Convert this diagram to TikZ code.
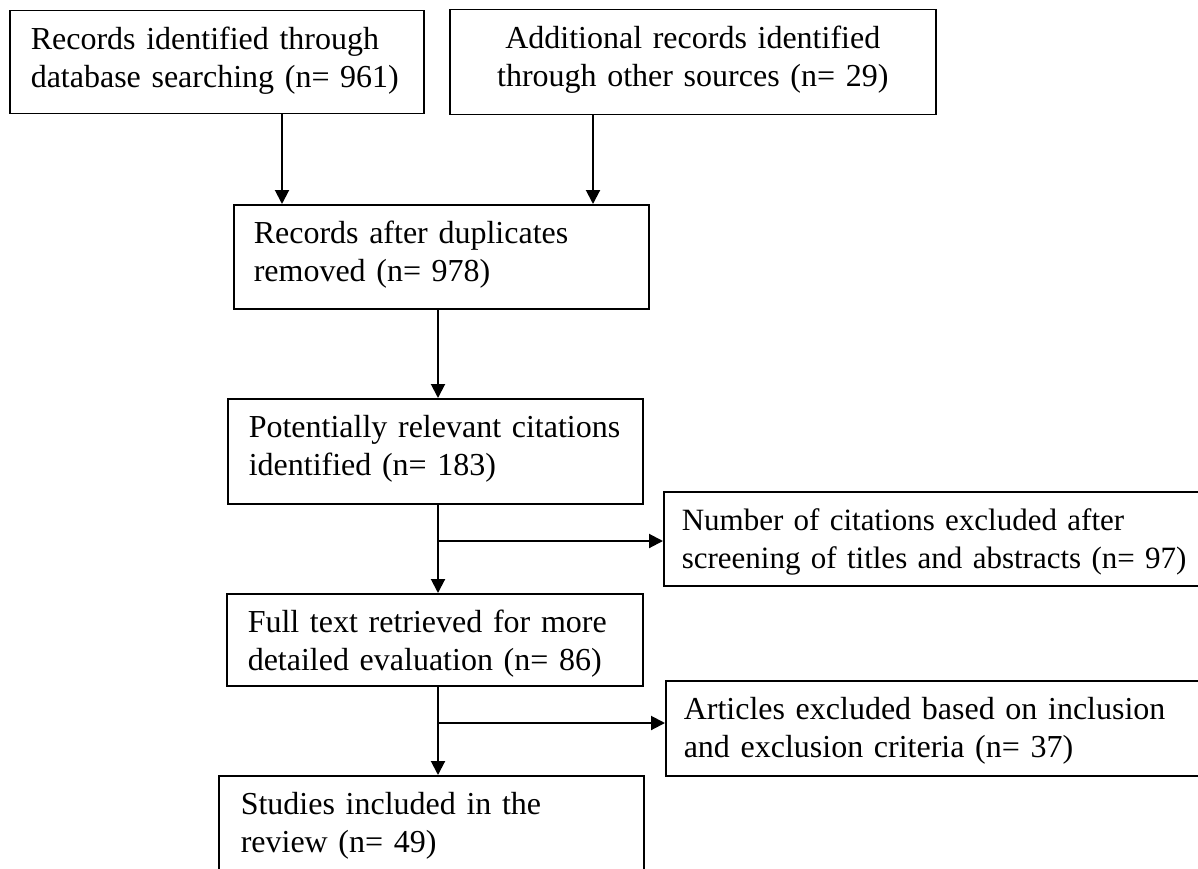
\documentclass[tikz,border=0pt]{standalone}
\usepackage{fontspec}
\setmainfont{Liberation Serif}[WordSpace=0.8]
\usetikzlibrary{positioning, arrows.meta}
\tikzset{>={Triangle[length=14pt, width=14pt]}, flow/.style={->, line width=2pt},
	box/.style={draw, rectangle, line width=1.5pt, anchor=north west, align=left, inner xsep=21pt, inner ysep=0pt, text height=39pt, font=\fontsize{32pt}{38pt}\selectfont}}

\begin{document}
\begin{tikzpicture}[x=1pt, y=-1pt]
	\path[use as bounding box, clip] (0,0) rectangle (1198,869);
	\node[box, text width=372pt, text depth=64pt] (Records) at (9,10) {Records identified through\\database searching (n= 961)};
	\node[box, align=center, text width=444pt, text depth=66pt] (Additional) at (449,9) {Additional records identified\\through other sources (n= 29)};
	\node[box, inner xsep=20pt, text width=375pt, text depth=65pt] (Duplicates) at (233,204) {Records after duplicates\\removed (n= 978)};
	\node[box, text width=373pt, text depth=66pt] (Relevant) at (227,398) {Potentially relevant citations\\identified (n= 183)};
	\node[box, inner xsep=18pt, text width=580pt, text depth=55pt, font=\fontsize{31pt}{38pt}\selectfont] (Screened) at (663,491) {Number of citations excluded after\\screening of titles and abstracts (n= 97)};
	\node[box, text width=374pt, text depth=53pt] (FullText) at (226,593) {Full text retrieved for more\\detailed evaluation (n= 86)};
	\node[box, inner xsep=18pt, text width=584pt, text depth=56pt] (Excluded) at (665,680) {Articles excluded based on inclusion\\and exclusion criteria (n= 37)};
	\node[box, inner xsep=22pt, text width=381pt, text depth=64pt] (Included) at (218,775) {Studies included in the\\review (n= 49)};
	\coordinate (left) at (282,0);
	\coordinate (right) at (593,0);
	\coordinate (main) at (438,0);
	\coordinate (split1) at (438,541);
	\coordinate (split2) at (438,723);
	\draw[flow] (Records.south -| left) -- (Duplicates.north -| left);
	\draw[flow] (Additional.south -| right) -- (Duplicates.north -| right);
	\draw[flow] (Duplicates.south -| main) -- (Relevant.north -| main);
	\draw[flow] (Relevant.south -| main) -- (FullText.north -| main);
	\draw[flow] (split1) -- (split1 -| Screened.west);
	\draw[flow] (FullText.south -| main) -- (Included.north -| main);
	\draw[flow] (split2) -- (split2 -| Excluded.west);
\end{tikzpicture}
\end{document}
